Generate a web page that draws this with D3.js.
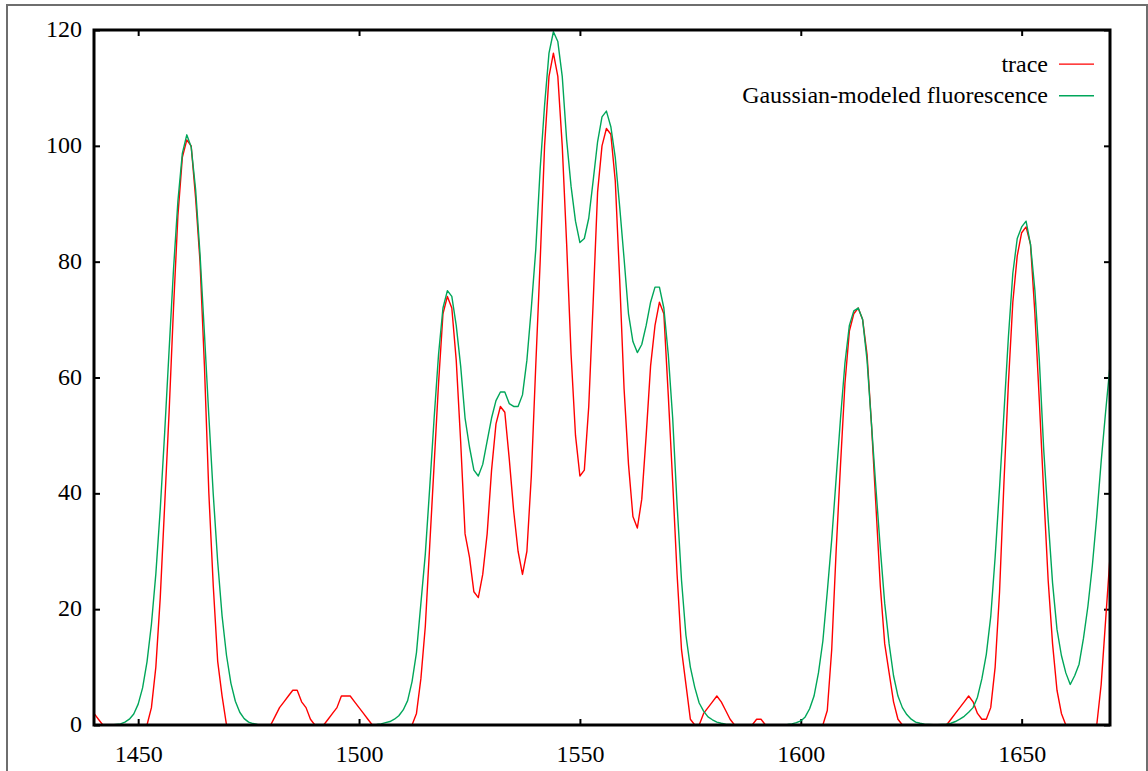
<!DOCTYPE html>
<html>
<head>
<meta charset="utf-8">
<script src="https://cdn.jsdelivr.net/npm/d3@7"></script>
<style>
  body { margin: 0; background: #fff; }
  svg { display: block; }
  text { font-family: "Liberation Serif", "Times New Roman", serif; font-size: 24px; fill: #000; }
</style>
</head>
<body>
<svg id="chart"></svg>
<script>
// Sample positions run from positionStart to positionEnd, one value per step
const positionStart = 1440;
const positionEnd = 1670;

const traceValues = [
    2, 1, 0, 0, 0, 0, 0, 0, 0, 0,
    0, 0, 0, 3, 10, 22, 38, 54, 72, 88,
    98, 101, 100, 91, 80, 62, 40, 24, 11, 5,
    0, 0, 0, 0, 0, 0, 0, 0, 0, 0,
    0, 1.5, 3, 4, 5, 6, 6, 4, 3, 1,
    0, 0, 0, 1, 2, 3, 5, 5, 5, 4,
    3, 2, 1, 0, 0, 0, 0, 0, 0, 0,
    0, 0, 0, 2, 8, 17, 31, 45, 59, 71,
    74, 72, 63, 49, 33, 29, 23, 22, 26, 33,
    44, 52, 55, 54, 46, 37, 30, 26, 30, 43,
    62, 80, 100, 112, 116, 112, 100, 83, 64, 50,
    43, 44, 55, 73, 92, 100, 103, 102, 94, 77,
    58, 45, 36, 34, 39, 50, 62, 69, 73, 71,
    57, 42, 26, 13, 7, 1, 0, 0, 2, 3,
    4, 5, 4, 2.5, 1, 0, 0, 0, 0, 0,
    1, 1, 0, 0, 0, 0, 0, 0, 0, 0,
    0, 0, 0, 0, 0, 0, 2.5, 13, 30, 45,
    59, 68, 71, 72, 70, 64, 52, 38, 24, 14,
    9, 4, 1, 0, 0, 0, 0, 0, 0, 0,
    0, 0, 0, 0, 1, 2, 3, 4, 5, 4,
    2, 1, 1, 3, 10, 23, 42, 59, 73, 81,
    85, 86, 83, 71, 56, 40, 25, 14, 6, 2,
    0, 0, 0, 0, 0, 0, 0, 0, 7, 18,
    29
];

// Gaussian-modeled fluorescence (green)
const modelValues = [
    0, 0, 0, 0, 0, 0.1, 0.2, 0.5, 1, 1.9,
    3.6, 6.4, 10.9, 17.4, 26.1, 37.3, 50.5, 64.7, 78.7, 90.5,
    98.7, 101.9, 99.8, 92.5, 81.3, 67.6, 53.3, 39.8, 28.2, 18.8,
    12, 7.2, 4.1, 2.2, 1.1, 0.5, 0.25, 0.1, 0.05, 0,
    0, 0, 0, 0, 0, 0, 0, 0, 0, 0,
    0, 0, 0, 0, 0, 0, 0, 0, 0, 0,
    0, 0, 0, 0.05, 0.1, 0.2, 0.4, 0.6, 1, 1.6,
    2.6, 4.2, 7.5, 12.5, 21, 29.5, 41, 53, 64, 72,
    75, 74, 69, 62, 53, 48, 44, 43, 45, 49,
    53, 56, 57.5, 57.5, 55.5, 55, 55, 57, 63, 72,
    82, 96, 107, 116, 119.7, 118, 112, 101, 93, 87,
    83.3, 84, 87.5, 94, 100.7, 105, 106, 103.3, 98, 89.5,
    80.5, 71, 66.2, 64.3, 65.7, 69, 73, 75.6, 75.6, 72,
    64, 53, 38, 25, 15.5, 10, 6.5, 3.8, 2.4, 1.4,
    0.9, 0.5, 0.3, 0.15, 0.1, 0.05, 0, 0, 0, 0,
    0, 0, 0, 0, 0, 0, 0.05, 0.1, 0.2, 0.4,
    0.7, 1.4, 2.8, 5, 9, 14.5, 23, 32, 42.5, 53,
    62.5, 69, 71.5, 72, 70, 63, 52, 41, 30.5, 21,
    14, 8.5, 5, 3, 1.8, 1, 0.5, 0.3, 0.15, 0.1,
    0.05, 0.05, 0.1, 0.15, 0.3, 0.6, 1, 1.5, 2.2, 3,
    4.8, 8, 12.2, 18.7, 29, 41, 54, 67, 78, 84,
    86, 87, 83, 75, 63, 47.5, 35.5, 24.5, 16.5, 12,
    9, 7, 8.5, 10.5, 15, 20.5, 27.5, 36, 45.5, 54,
    62
];

const xTickValues = [1450, 1500, 1550, 1600, 1650];
const yTickValues = [0, 20, 40, 60, 80, 100, 120];
const yDomain = [0, 120];

const seriesNames = ['trace', 'Gaussian-modeled fluorescence'];
const seriesColors = ['#ff0000', '#00a65a'];

class TracePlot {
    constructor(_config, _series) {
        this.config = {
            parentElement: _config.parentElement,
            containerWidth: _config.containerWidth || 1148,
            containerHeight: _config.containerHeight || 771,
            margin: _config.margin || {top: 30, right: 38, bottom: 46, left: 94}
        }
        this.series = _series;
        this.initVis();
    }

    initVis() {
        let vis = this;

        vis.width = vis.config.containerWidth - vis.config.margin.left - vis.config.margin.right;
        vis.height = vis.config.containerHeight - vis.config.margin.top - vis.config.margin.bottom;

        vis.xScale = d3.scaleLinear()
            .domain([positionStart, positionEnd])
            .range([0, vis.width]);

        vis.yScale = d3.scaleLinear()
            .domain(yDomain)
            .range([vis.height, 0]);

        // gnuplot style: ticks point inwards, mirrored on top and right
        vis.xAxis = d3.axisBottom(vis.xScale)
            .tickValues(xTickValues)
            .tickSizeInner(-6)
            .tickSizeOuter(0)
            .tickFormat(d3.format('d'));
        vis.xAxisTop = d3.axisTop(vis.xScale)
            .tickValues(xTickValues)
            .tickSizeInner(-6)
            .tickSizeOuter(0)
            .tickFormat('');
        vis.yAxis = d3.axisLeft(vis.yScale)
            .tickValues(yTickValues)
            .tickSizeInner(-6)
            .tickSizeOuter(0)
            .tickPadding(12);
        vis.yAxisRight = d3.axisRight(vis.yScale)
            .tickValues(yTickValues)
            .tickSizeInner(-6)
            .tickSizeOuter(0)
            .tickFormat('');

        vis.svg = d3.select(vis.config.parentElement)
            .attr('width', vis.config.containerWidth)
            .attr('height', vis.config.containerHeight);

        // thin grey frame round the whole picture
        vis.svg.append('rect')
            .attr('x', 7)
            .attr('y', 5)
            .attr('width', vis.config.containerWidth - 8)
            .attr('height', vis.config.containerHeight)
            .attr('fill', 'none')
            .attr('stroke', '#6e6e6e')
            .attr('stroke-width', 2);

        vis.chart = vis.svg.append('g')
            .attr('transform', `translate(${vis.config.margin.left},${vis.config.margin.top})`);

        vis.chart.append('clipPath')
            .attr('id', 'plot-clip')
            .append('rect')
            .attr('width', vis.width)
            .attr('height', vis.height);

        vis.xAxisG = vis.chart.append('g')
            .attr('class', 'axis x-axis')
            .attr('transform', `translate(0,${vis.height})`);
        vis.xAxisTopG = vis.chart.append('g')
            .attr('class', 'axis x-axis-top');
        vis.yAxisG = vis.chart.append('g')
            .attr('class', 'axis y-axis');
        vis.yAxisRightG = vis.chart.append('g')
            .attr('class', 'axis y-axis-right')
            .attr('transform', `translate(${vis.width},0)`);

        vis.linesG = vis.chart.append('g')
            .attr('clip-path', 'url(#plot-clip)');

        // plot border
        vis.chart.append('rect')
            .attr('width', vis.width)
            .attr('height', vis.height)
            .attr('fill', 'none')
            .attr('stroke', '#000')
            .attr('stroke-width', 3);

        vis.legendG = vis.chart.append('g')
            .attr('class', 'legend');

        vis.updateVis();
    }

    updateVis() {
        let vis = this;

        vis.xValue = d => d.x;
        vis.yValue = d => d.y;

        vis.line = d3.line()
            .x(d => vis.xScale(vis.xValue(d)))
            .y(d => vis.yScale(vis.yValue(d)));

        vis.renderVis();
    }

    renderVis() {
        let vis = this;

        vis.linesG.selectAll('.series')
            .data(vis.series)
            .join('path')
            .attr('class', 'series')
            .attr('fill', 'none')
            .attr('stroke', d => d.color)
            .attr('stroke-width', 1.4)
            .attr('stroke-linejoin', 'round')
            .attr('d', d => vis.line(d.values));

        // Legend in the top right corner, text right-aligned before the sample line
        const rows = vis.legendG.selectAll('.legend-row')
            .data(vis.series)
            .join('g')
            .attr('class', 'legend-row')
            .attr('transform', (d, i) => `translate(${vis.width - 62},${41.7 + i * 31.6})`);

        rows.append('text')
            .attr('x', 0)
            .attr('y', 0)
            .style('text-anchor', 'end')
            .text(d => d.name);

        rows.append('line')
            .attr('x1', 11)
            .attr('x2', 46)
            .attr('y1', -7.6)
            .attr('y2', -7.6)
            .attr('stroke', d => d.color)
            .attr('stroke-width', 1.4);

        vis.xAxisG.call(vis.xAxis)
            .call(g => g.select('.domain').remove());
        vis.xAxisG.selectAll('text')
            .attr('dy', null)
            .attr('y', 36.7);
        vis.xAxisTopG.call(vis.xAxisTop)
            .call(g => g.select('.domain').remove());
        vis.yAxisG.call(vis.yAxis)
            .call(g => g.select('.domain').remove());
        vis.yAxisG.selectAll('text')
            .attr('dy', 6.5);
        vis.yAxisRightG.call(vis.yAxisRight)
            .call(g => g.select('.domain').remove());

        vis.chart.selectAll('.axis text')
            .attr('fill', '#000')
            .attr('font-size', null)
            .attr('font-family', null);
        vis.chart.selectAll('.axis')
            .attr('font-size', null)
            .attr('font-family', null);
        vis.chart.selectAll('.axis .tick line')
            .attr('stroke', '#000')
            .attr('stroke-width', 2);
    }
}

const positions = d3.range(positionStart, positionEnd + 1);
const series = [traceValues, modelValues].map((vals, k) => ({
    name: seriesNames[k],
    color: seriesColors[k],
    values: vals.map((v, i) => ({x: positions[i], y: v}))
}));

new TracePlot({parentElement: '#chart'}, series);
</script>
</body>
</html>
